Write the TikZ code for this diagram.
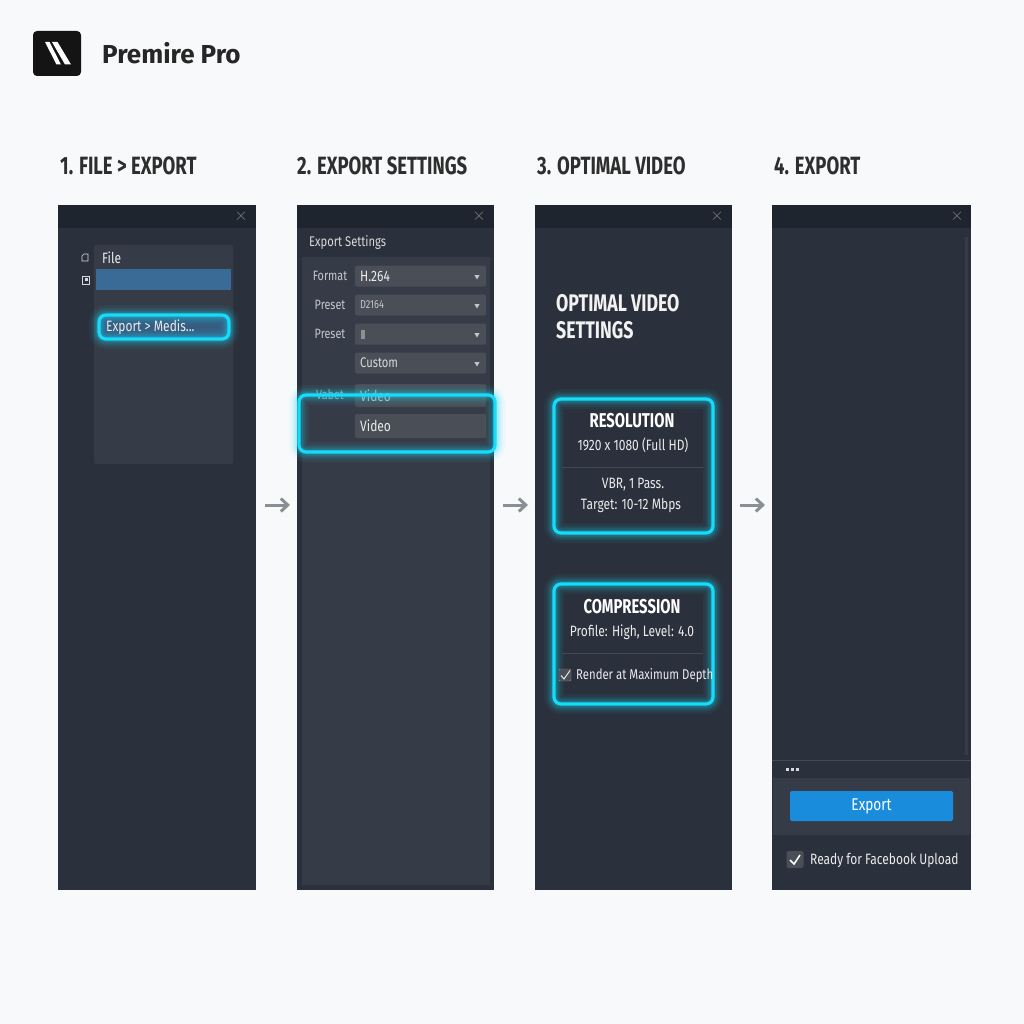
\documentclass[tikz,border=0pt]{standalone}
\usepackage{fontspec}
\setmainfont{Fira Sans}
\newfontfamily\narrowfont[FakeStretch=0.80]{Fira Sans}
\newfontfamily\headfont[FakeStretch=0.74]{Fira Sans}
\usetikzlibrary{calc, positioning, arrows.meta}
\definecolor{pagebg}{HTML}{F8F9FA}
\definecolor{panelbg}{HTML}{2B313C}
\definecolor{titlebg}{HTML}{1F252E}
\definecolor{softbg}{HTML}{363C47}
\definecolor{dropbg}{HTML}{4A4E57}
\definecolor{glowc}{HTML}{14DCFA}
\definecolor{barblue}{HTML}{3A6A96}
\definecolor{btnblue}{HTML}{1A8CDC}
\definecolor{softtxt}{HTML}{C4C7CC}
\definecolor{arrowc}{HTML}{8A8F96}
\tikzset{
	panel/.style={fill=panelbg, minimum height=685pt, inner sep=0pt, outer sep=0pt},
	titlebar/.style={fill=titlebg, minimum height=23pt, minimum width=#1, inner sep=0pt, outer sep=0pt},
	heading/.style={anchor=west, inner sep=0pt, text=black!82, font=\headfont\fontsize{25}{25}\selectfont\bfseries},
	closex/.style={inner sep=0pt, text=white!40!panelbg, font=\fontsize{16}{16}\selectfont},
	txt/.style={inner sep=0pt, text=white!92!black, font=\narrowfont\fontsize{15}{15}\selectfont},
	softlabel/.style={txt, text=softtxt, font=\narrowfont\fontsize{13.5}{13.5}\selectfont},
	boxtitle/.style={txt, text=white, font=\headfont\fontsize{20}{20}\selectfont\bfseries},
	dropbox/.style={fill=dropbg, rounded corners=1.5pt, minimum width=131pt, minimum height=#1, inner sep=0pt, outer sep=0pt},
	droptip/.style={fill=softtxt, regular polygon, regular polygon sides=3, shape border rotate=180, minimum size=6pt, inner sep=0pt},
	flow/.style={-{Straight Barb[length=7pt,width=13pt]}, arrowc, line width=3pt},
	divider/.style={draw=white!12!panelbg, line width=.8pt},
}
\usetikzlibrary{shapes.geometric}
% glowing frame between two corners
\newcommand{\glowframe}[2]{
	\foreach \w/\o in {20/.05,15/.08,11/.12,7/.18}
		\draw[glowc, line width=\w pt, opacity=\o, rounded corners=7pt] (#1) rectangle (#2);
	\draw[glowc, line width=3.2pt, rounded corners=7pt] (#1) rectangle (#2);
}
\begin{document}
\begin{tikzpicture}[x=1pt, y=-1pt]
		\useasboundingbox[fill=pagebg] (0,0) rectangle (1024,1024);

		% logo %
		\node[fill=black!92, rounded corners=4pt, minimum width=48pt, minimum height=45pt, inner sep=0pt] (logo) at (57,53.5) {};
		\fill[white] (45,42) -- (49.5,42) -- (61,64.5) -- (56.5,64.5) -- cycle;
		\fill[white] (52,42) -- (57.5,42) -- (71,64.5) -- (65,64.5) -- cycle;
		\node[anchor=west, inner sep=0pt, text=black!85, font=\fontsize{26}{26}\selectfont\bfseries] (brand) at (102,53) {Premire Pro};

		% headings %
		\node[heading] (h1) at (60,166) {1. FILE > EXPORT};
		\node[heading] (h2) at (297,166) {2. EXPORT SETTINGS};
		\node[heading] (h3) at (537,166) {3. OPTIMAL VIDEO};
		\node[heading] (h4) at (774,166) {4. EXPORT};

		% panels %
		\node[panel, minimum width=198pt] (p1) at (157,547.5) {};
		\node[panel, minimum width=197pt, right=41pt of p1] (p2) {};
		\node[panel, minimum width=197pt, right=41pt of p2] (p3) {};
		\node[panel, minimum width=199pt, right=40pt of p3] (p4) {};
		\node[titlebar=198pt] (t1) at (157,216.5) {};
		\node[titlebar=197pt] (t2) at (395.5,216.5) {};
		\node[titlebar=197pt] (t3) at (633.5,216.5) {};
		\node[titlebar=199pt] (t4) at (871.5,216.5) {};
		\node[closex] (x1) at (241,216) {$\times$};
		\node[closex] (x2) at (479,216) {$\times$};
		\node[closex] (x3) at (717,216) {$\times$};
		\node[closex] (x4) at (957,216) {$\times$};

		% panel 1 %
		\node[fill=softbg, rounded corners=2pt, minimum width=139pt, minimum height=219pt, inner sep=0pt] (menu) at (163.5,354.5) {};
		\node[fill=barblue, minimum width=135pt, minimum height=21pt, inner sep=0pt] (bar) at (163.5,279.5) {};
		\node[txt, anchor=west] (file) at (102,258) {File};
		\draw[softtxt!70, line width=.7pt] (82,261) -- (82,256) -- (84,254) -- (88,254) -- (88,261) -- cycle;
		\draw[softtxt!70, line width=.7pt] (82,276) rectangle (89,284);
		\fill[softtxt!70] (85,278) rectangle (88,281);
		\fill[barblue!75!panelbg, rounded corners=6pt] (98,314) rectangle (230,340);
		\glowframe{99,315}{229,339}
		\node[txt, anchor=west] (media) at (106,327) {Export > Medis...};

		% panel 2 %
		\node[softlabel, anchor=west, text=white!85!black, font=\narrowfont\fontsize{14}{14}\selectfont] (est) at (309,243) {Export Settings};
		\fill[softbg] (302,257) rectangle (490,885);
		\node[dropbox=21pt] (d1) at (420.5,276) {};
		\node[dropbox=21pt] (d2) at (420.5,305) {};
		\node[dropbox=21pt] (d3) at (420.5,334) {};
		\node[dropbox=21pt] (d4) at (420.5,363) {};
		\node[dropbox=23pt] (d5) at (420.5,395.5) {};
		\node[dropbox=24pt] (d6) at (420.5,426) {};
		\node[softlabel] (l1) at (330,276) {Format};
		\node[softlabel] (l2) at (330,305) {Preset};
		\node[softlabel] (l3) at (330,334) {Preset};
		\node[softlabel, opacity=.75] (l5) at (330,395) {Vabet};
		\node[txt, anchor=west] (v1) at (360,276) {H.264};
		\node[txt, anchor=west, text=softtxt, font=\narrowfont\fontsize{11.5}{11.5}\selectfont] (v2) at (360,305) {D2164};
		\node[fill=softtxt!55!dropbg, minimum width=4pt, minimum height=9pt, inner sep=0pt] (v3) at (363,334) {};
		\node[txt, anchor=west, text=white!85!black, font=\narrowfont\fontsize{14}{14}\selectfont] (v4) at (360,363) {Custom};
		\node[txt, anchor=west, opacity=.7] (v5) at (360,396) {Video};
		\node[txt, anchor=west] (v6) at (360,426) {Video};
		\foreach \n in {1,2,3,4}
			\node[droptip] (tip\n) at ($(d\n.east)+(-9,.5)$) {};
		\glowframe{299,395}{495,452}

		% panel 3 %
		\node[heading, text=white!95!black, font=\headfont\fontsize{24}{24}\selectfont\bfseries] (o1) at (556,303) {OPTIMAL VIDEO};
		\node[heading, text=white!95!black, font=\headfont\fontsize{24}{24}\selectfont\bfseries] (o2) at (556,330) {SETTINGS};
		\glowframe{554,399}{713,533}
		\glowframe{554,584}{713,704}
		\node[boxtitle] (r1) at (632,421) {RESOLUTION};
		\node[txt] (r2) at (633,445) {1920 x 1080 (Full HD)};
		\draw[divider] (562,467) -- (703,467);
		\node[txt] (r3) at (633,485) {VBR, 1 Pass.};
		\node[txt] (r4) at (631,505) {Target: 10-12 Mbps};
		\node[boxtitle] (c1) at (632,607) {COMPRESSION};
		\node[txt] (c2) at (632,632) {Profile: High, Level: 4.0};
		\draw[divider] (562,653) -- (703,653);
		\node[fill=dropbg, draw=softtxt!50!dropbg, rounded corners=1pt, minimum size=12pt, inner sep=0pt] (c3) at (565,675) {};
		\draw[white!90!black, line width=1pt] (561,675.5) -- (564,679) -- (570,670.5);
		\node[txt, anchor=west, font=\narrowfont\fontsize{14.2}{14.2}\selectfont] (c4) at (576,675) {Render at Maximum Depth};

		% panel 4 %
		\fill[softbg] (965,237) rectangle (968,755);
		\draw[divider] (772,760) -- (971,760);
		\foreach \x in {786,791,796}
			\fill[softtxt!70] (\x,767.5) rectangle +(3,3);
		\fill[softbg] (773,778) rectangle (970,835);
		\node[fill=btnblue, rounded corners=1.5pt, minimum width=163pt, minimum height=30pt, inner sep=0pt, text=white, font=\narrowfont\fontsize{17}{17}\selectfont] (btn) at (871.5,806) {Export};
		\node[fill=dropbg, rounded corners=2pt, minimum size=17pt, inner sep=0pt] (chk) at (795,859.5) {};
		\draw[white, line width=1.5pt] (790,860) -- (794,864) -- (800,855);
		\node[txt, anchor=west, font=\narrowfont\fontsize{15}{15}\selectfont] (ready) at (810,860) {Ready for Facebook Upload};

		% edges %
		\coordinate (a1s) at (265,505);
		\coordinate (a1e) at (290,505);
		\coordinate (a2s) at (503,505);
		\coordinate (a2e) at (528,505);
		\coordinate (a3s) at (740,505);
		\coordinate (a3e) at (765,505);
		\draw[flow] (a1s) -- (a1e);
		\draw[flow] (a2s) -- (a2e);
		\draw[flow] (a3s) -- (a3e);
		\end{tikzpicture}
\end{document}
